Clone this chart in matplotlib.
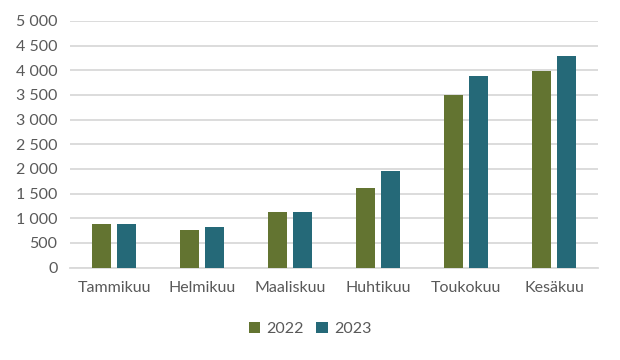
import matplotlib
matplotlib.use("Agg")
import matplotlib.pyplot as plt
import numpy as np
from matplotlib.ticker import FuncFormatter, MultipleLocator

categories = ["Tammikuu", "Helmikuu", "Maaliskuu", "Huhtikuu", "Toukokuu", "Kesäkuu"]
series_names = ["2022", "2023"]
values_2022 = [890, 770, 1120, 1620, 3500, 3980]
values_2023 = [890, 830, 1120, 1950, 3880, 4300]
colors = ["#637431", "#256978"]

plt.rcParams['font.family'] = ['Lato', 'DejaVu Sans']

fig = plt.figure(figsize=(6.2, 3.6), dpi=100)
ax = fig.add_axes([70/620, 1 - 267.5/360, 528/620, 246.5/360])

x = np.arange(len(categories))
w = 0.227
off = 0.142
ax.bar(x - off, values_2022, width=w, color=colors[0], label=series_names[0], zorder=3)
ax.bar(x + off, values_2023, width=w, color=colors[1], label=series_names[1], zorder=3)

ax.set_xlim(-0.5, len(categories) - 0.5)
ax.set_ylim(0, 5000)
ax.yaxis.set_major_locator(MultipleLocator(500))
ax.yaxis.set_major_formatter(FuncFormatter(lambda v, p: f"{int(v):,}".replace(",", " ")))
ax.grid(axis='y', color='#D9D9D9', linewidth=1.3, zorder=0)
ax.set_axisbelow(True)
for s in ['top', 'right', 'left']:
    ax.spines[s].set_visible(False)
ax.spines['bottom'].set_color('#D9D9D9')
ax.spines['bottom'].set_linewidth(1.3)
ax.set_xticks(x)
ax.set_xticklabels(categories)
ax.tick_params(axis='both', length=0, colors='#595959', labelsize=11.5)
ax.tick_params(axis='x', pad=10, labelsize=11.5)
ax.tick_params(axis='y', pad=9)

leg = fig.legend(loc='center', bbox_to_anchor=(0.5, 1 - 329/360), ncol=2, frameon=False,
                 handlelength=0.7, handleheight=0.7, handletextpad=0.4, columnspacing=0.8,
                 fontsize=11.5)
for t in leg.get_texts():
    t.set_color('#595959')

fig.savefig("out.png", dpi=100)
